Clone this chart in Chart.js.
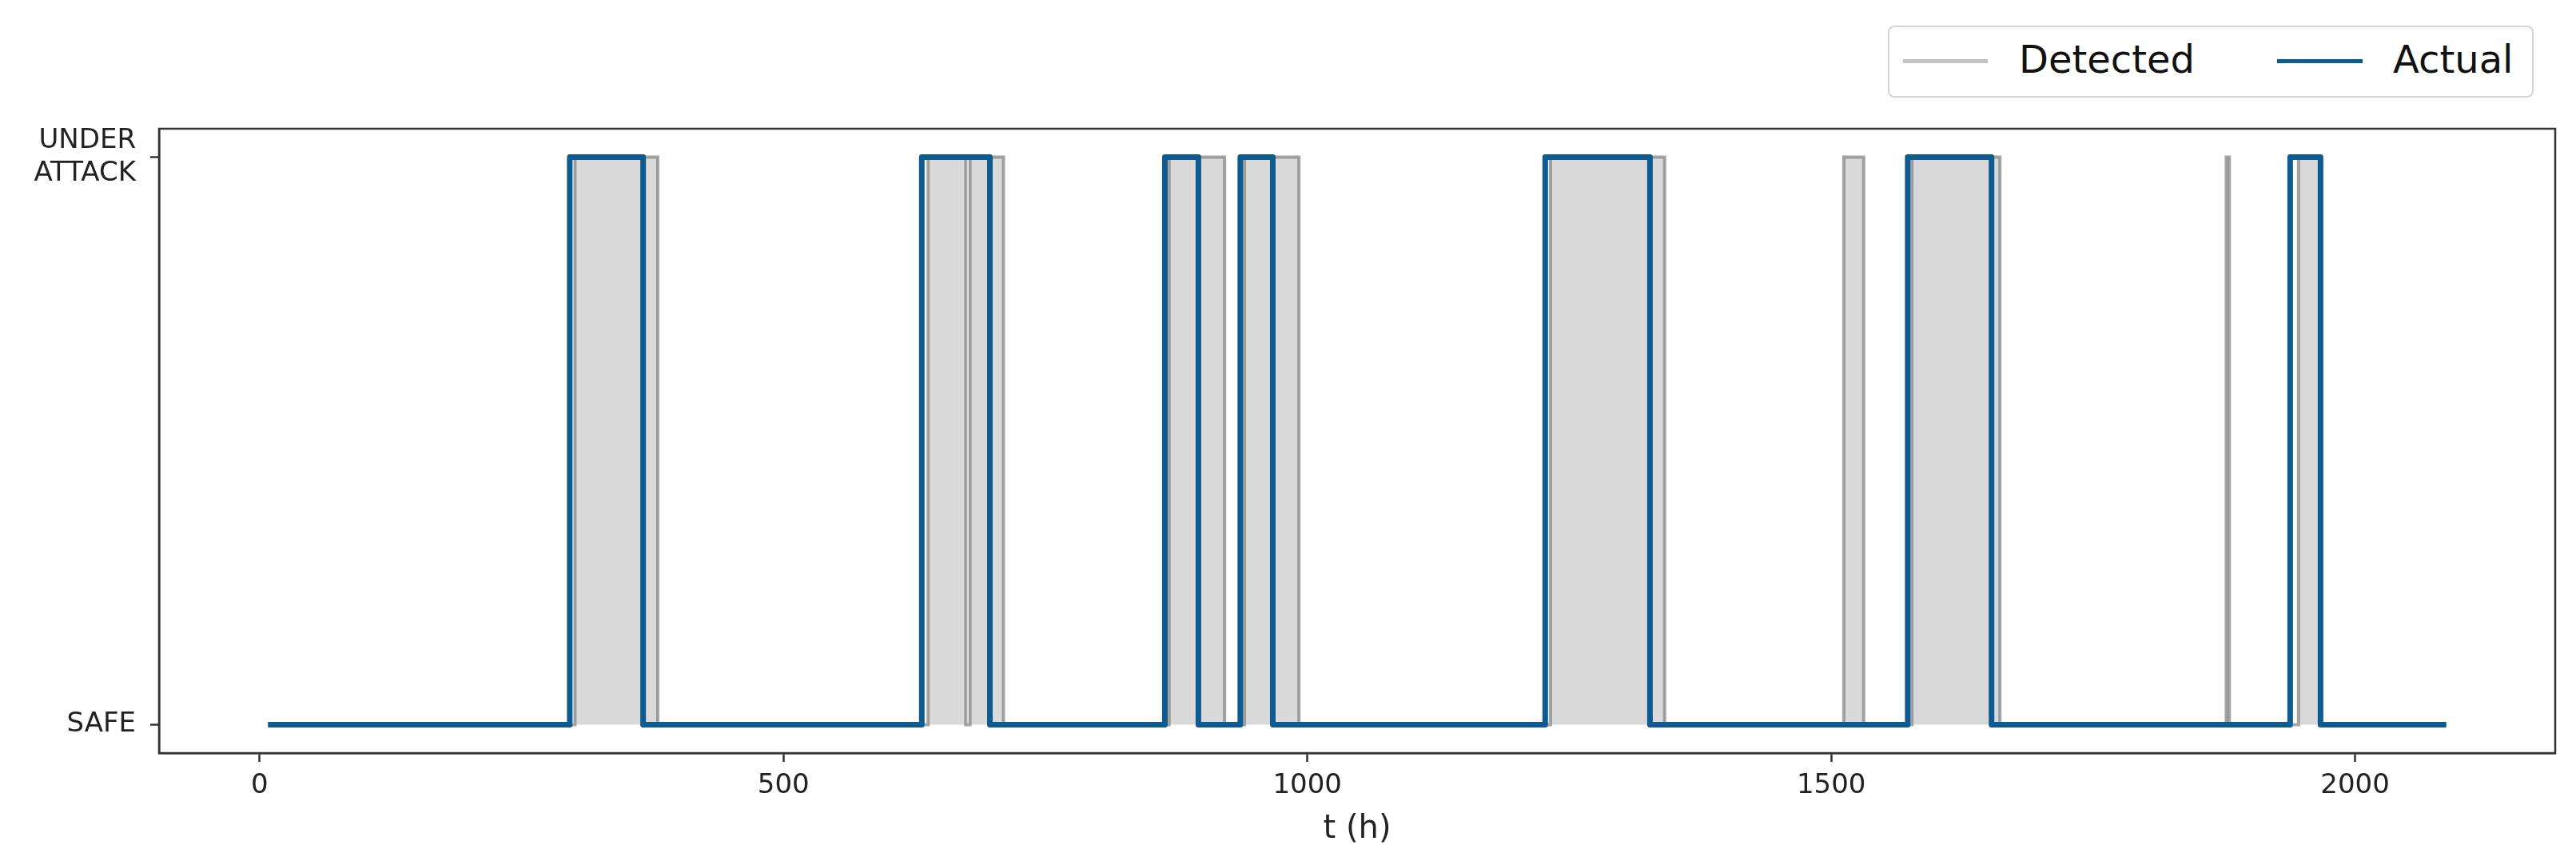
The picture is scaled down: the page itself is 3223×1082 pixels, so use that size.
<!DOCTYPE html>
<html lang="en">
<head>
  <meta charset="UTF-8">
  <title>Detected vs Actual</title>
  <script src="https://cdn.jsdelivr.net/npm/chart.js"></script>
  <style>
    body { margin:0; background:#fff; font-family:'DejaVu Sans', sans-serif; }
    #wrap { position:relative; width:3223px; height:1082px; }
    #legend { position:absolute; left:2362px; top:32px; width:808px; height:90px; box-sizing:border-box;
              border:2px solid #d4d4d4; border-radius:8px; background:#fff; }
    .swatch { position:absolute; top:40px; height:5px; }
    .lbl { position:absolute; top:10px; font-size:48px; line-height:60px; color:#111; }
  </style>
</head>
<body>
  <div id="wrap">
    <canvas id="chart" width="3223" height="1082"></canvas>
    <div id="legend"></div>
  </div>

  <script>
    // time (h) where each state starts, and the state (0 = SAFE, 1 = UNDER ATTACK)
    const actualT   = [8, 296, 366, 632, 697, 864, 896, 936, 967, 1227, 1327, 1573, 1653, 1938, 1967, 2087];
    const actualS   = [0, 1,   0,   1,   0,   1,   0,   1,   0,   1,    0,    1,    0,    1,    0,    0];
    const detectedT = [8, 301, 380, 638, 674, 678, 710, 868, 921, 940, 992, 1232, 1341, 1512, 1531, 1577, 1661, 1877, 1880, 1946, 1966, 2087];
    const detectedS = [0, 1,   0,   1,   0,   1,   0,   1,   0,   1,   0,   1,    0,    1,    0,    1,    0,    1,    0,    1,    0,    0];

    const xTicks = [0, 500, 1000, 1500, 2000];
    const yTicks = [0, 1];
    const yLabels = ['SAFE', ['UNDER', 'ATTACK']];

    const blue = '#0d5b90';
    const grayLine = 'rgba(120,120,120,0.65)';
    const grayFill = 'rgba(128,128,128,0.3)';

    const toPts = (t, s) => t.map((v, i) => ({ x: v, y: s[i] }));

    // full box around the plot area
    const frame = {
      id: 'frame',
      afterDraw(chart) {
        const a = chart.chartArea, c = chart.ctx;
        c.save();
        c.strokeStyle = '#333';
        c.lineWidth = 2.5;
        c.strokeRect(a.left, a.top, a.right - a.left, a.bottom - a.top);
        c.restore();
      }
    };

    const font = { family: 'DejaVu Sans', size: 34 };

    // stepped: 'before' keeps each state until the next time point
    const chart = new Chart(document.getElementById('chart'), {
      type: 'line',
      data: {
        datasets: [
          { label: 'Detected', data: toPts(detectedT, detectedS), stepped: 'before',
            borderColor: grayLine, backgroundColor: grayFill, borderWidth: 4,
            fill: 'origin', pointRadius: 0, order: 2 },
          { label: 'Actual', data: toPts(actualT, actualS), stepped: 'before',
            borderColor: blue, borderWidth: 7, borderJoinStyle: 'round',
            fill: false, pointRadius: 0, order: 1 }
        ]
      },
      options: {
        responsive: false,
        animation: false,
        devicePixelRatio: 1,
        layout: { padding: { top: 161, right: 26, left: 0, bottom: 0 } },
        plugins: { legend: { display: false }, tooltip: { enabled: false } },
        scales: {
          x: {
            type: 'linear', min: -96, max: 2191,
            afterBuildTicks: ax => { ax.ticks = xTicks.map(v => ({ value: v })); },
            afterFit: ax => { ax.height = 140; },
            grid: { drawOnChartArea: false, drawTicks: true, tickLength: 11, tickWidth: 2.5, tickColor: '#333' },
            border: { display: true, color: '#333', width: 2.5 },
            ticks: { font, color: '#222', padding: 10, maxRotation: 0, callback: v => String(v) },
            title: { display: true, text: 't (h)', font: { family: 'DejaVu Sans', size: 40 },
                     color: '#222', padding: { top: 0, bottom: 20 } }
          },
          y: {
            type: 'linear', min: -0.05, max: 1.05,
            afterBuildTicks: ax => { ax.ticks = yTicks.map(v => ({ value: v })); },
            afterFit: ax => { ax.width = 199; },
            grid: { drawOnChartArea: false, drawTicks: true, tickLength: 11, tickWidth: 2.5, tickColor: '#333' },
            border: { display: true, color: '#333', width: 2.5 },
            ticks: { font: { family: 'DejaVu Sans', size: 34, lineHeight: 1.2 }, color: '#222', padding: 18,
                     callback: v => yLabels[yTicks.indexOf(v)] }
          }
        }
      },
      plugins: [frame]
    });

    // legend box, built from the datasets
    const legend = document.getElementById('legend');
    const items = [
      { ds: chart.data.datasets[0], line: [17, 123], text: 162 },
      { ds: chart.data.datasets[1], line: [485, 592], text: 630 }
    ];
    items.forEach(it => {
      const sw = document.createElement('div');
      sw.className = 'swatch';
      sw.style.left = it.line[0] + 'px';
      sw.style.width = (it.line[1] - it.line[0]) + 'px';
      sw.style.background = it.ds.label === 'Actual' ? blue : '#c2c2c2';
      legend.appendChild(sw);
      const tx = document.createElement('span');
      tx.className = 'lbl';
      tx.style.left = it.text + 'px';
      tx.textContent = it.ds.label;
      legend.appendChild(tx);
    });
  </script>
</body>
</html>
